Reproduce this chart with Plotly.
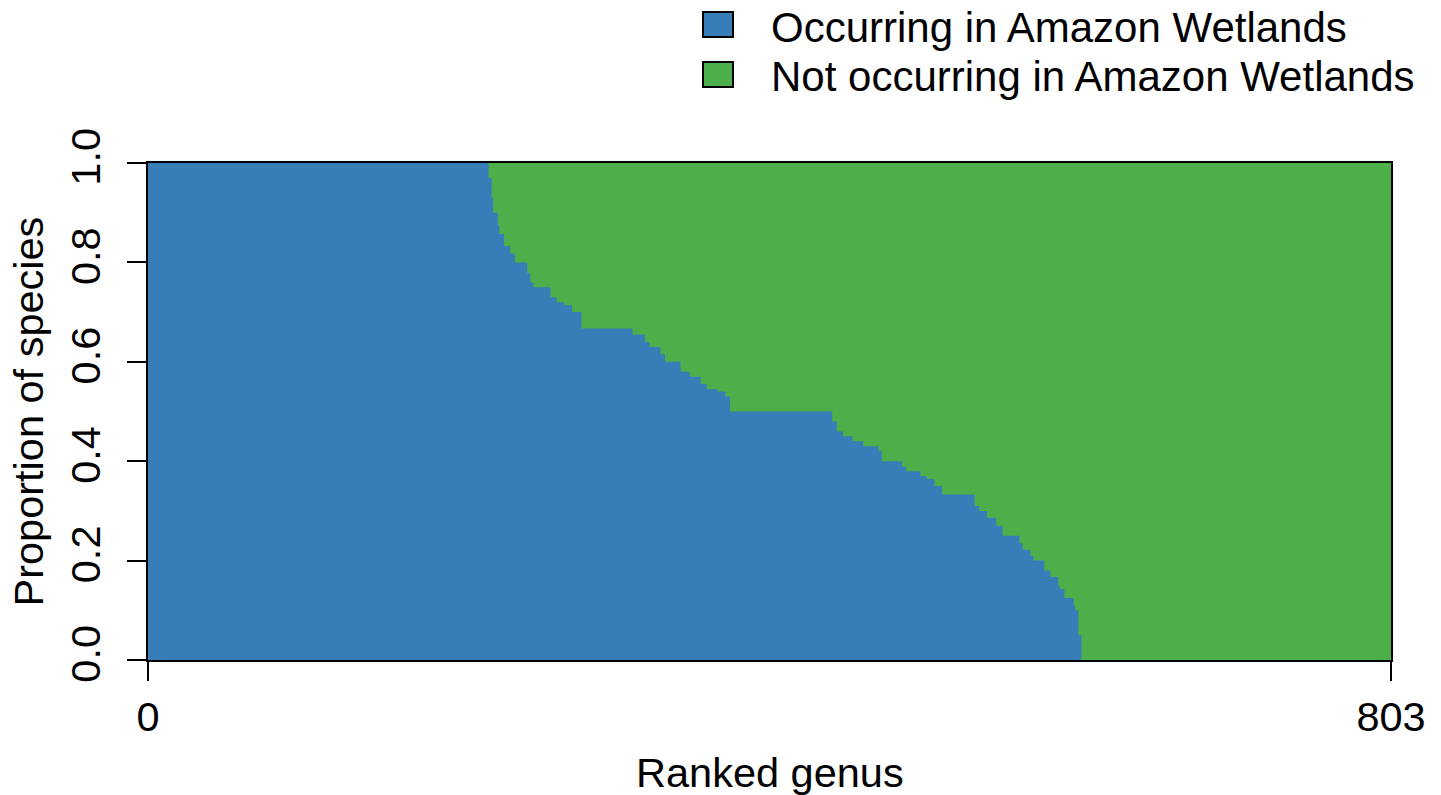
import numpy as np
import plotly.graph_objects as go

# Proportion of species occurring in Amazon wetlands per ranked genus (run-length: value, number of genera)
prop_values = [1.0, 0.97, 0.93, 0.9, 0.875, 0.857, 0.833, 0.818, 0.8, 0.778, 0.76, 0.75,
               0.73, 0.72, 0.714, 0.7, 0.667, 0.655, 0.64, 0.63, 0.615, 0.6, 0.58, 0.57,
               0.556, 0.545, 0.54, 0.53, 0.5, 0.48, 0.46, 0.45, 0.44, 0.43, 0.42, 0.4,
               0.389, 0.38, 0.37, 0.364, 0.35, 0.333, 0.31, 0.3, 0.286, 0.27, 0.25, 0.235,
               0.222, 0.21, 0.2, 0.18, 0.167, 0.15, 0.143, 0.125, 0.11, 0.1, 0.05, 0.0]
genus_counts = [220, 2, 1, 3, 1, 3, 4, 3, 8, 2, 2, 11,
                4, 5, 5, 6, 33, 8, 3, 7, 3, 10, 6, 7,
                4, 7, 5, 3, 66, 3, 4, 6, 7, 10, 2, 13,
                3, 9, 4, 5, 5, 21, 3, 5, 6, 4, 11, 2,
                5, 2, 7, 4, 5, 1, 3, 6, 1, 2, 2, 200]
x_tick_vals = [0, 803]
y_tick_vals = [0.0, 0.2, 0.4, 0.6, 0.8, 1.0]
y_tick_text = ["0.0", "0.2", "0.4", "0.6", "0.8", "1.0"]
legend_labels = ["Occurring in Amazon Wetlands", "Not occurring in Amazon Wetlands"]
colors = ["#377EB8", "#4DAF4A"]

occ = np.repeat(prop_values, genus_counts)
n = len(occ)
x_edges = np.arange(n + 1)
y_occ = np.append(occ, occ[-1])
y_all = np.ones(n + 1)

W, H = 1441, 795
OFF = 8  # page body margin
L, R, T, B = 148, 1391, 163, 660
FONT = "Liberation Sans, Arial, sans-serif"
FS = 41.5
FS_LEG = 42

def px(x):
    return (x - L) / (R - L)

def py(y):
    return (B - y) / (B - T)

fig = go.Figure()
fig.add_trace(go.Scatter(x=x_edges, y=y_all, mode="lines", line=dict(width=0, shape="hv"),
                         fill="tozeroy", fillcolor=colors[1], showlegend=False, hoverinfo="skip"))
fig.add_trace(go.Scatter(x=x_edges, y=y_occ, mode="lines", line=dict(width=0, shape="hv"),
                         fill="tozeroy", fillcolor=colors[0], showlegend=False, hoverinfo="skip"))

axis_common = dict(showgrid=False, zeroline=False, showline=True, mirror=True,
                   linecolor="black", linewidth=2, ticks="outside", ticklen=19,
                   tickwidth=1.5, tickcolor="black",
                   tickfont=dict(family=FONT, size=FS, color="black"))
fig.update_xaxes(range=[0, n], tickvals=x_tick_vals, ticktext=[str(v) for v in x_tick_vals],
                 ticklabelstandoff=0, **axis_common)
fig.update_yaxes(range=[0, 1], tickvals=y_tick_vals, ticktext=y_tick_text, tickangle=-90,
                 ticklabelstandoff=10, **axis_common)

annotations = [
    dict(text="Ranked genus", xref="paper", yref="paper", x=0.5, y=py(772),
         xanchor="center", yanchor="middle", showarrow=False,
         font=dict(family=FONT, size=FS, color="black")),
    dict(text="Proportion of species", xref="paper", yref="paper", x=px(28), y=0.5,
         xanchor="center", yanchor="middle", showarrow=False, textangle=-90,
         font=dict(family=FONT, size=FS, color="black")),
]
shapes = []
leg_y = [27, 76]
sq_y = [(12, 37), (62, 87)]
for i, lab in enumerate(legend_labels):
    shapes.append(dict(type="rect", xref="paper", yref="paper",
                       x0=px(703), x1=px(733), y0=py(sq_y[i][1]), y1=py(sq_y[i][0]),
                       fillcolor=colors[i], line=dict(color="black", width=2)))
    annotations.append(dict(text=lab, xref="paper", yref="paper", x=px(769), y=py(leg_y[i]),
                            xanchor="left", yanchor="middle", showarrow=False,
                            font=dict(family=FONT, size=FS_LEG, color="black")))

fig.update_layout(width=W, height=H,
                  margin=dict(l=L - OFF, r=W + OFF - R, t=T - OFF, b=H + OFF - B),
                  paper_bgcolor="white", plot_bgcolor="white", showlegend=False,
                  annotations=annotations, shapes=shapes)
fig.write_html("out.html")
